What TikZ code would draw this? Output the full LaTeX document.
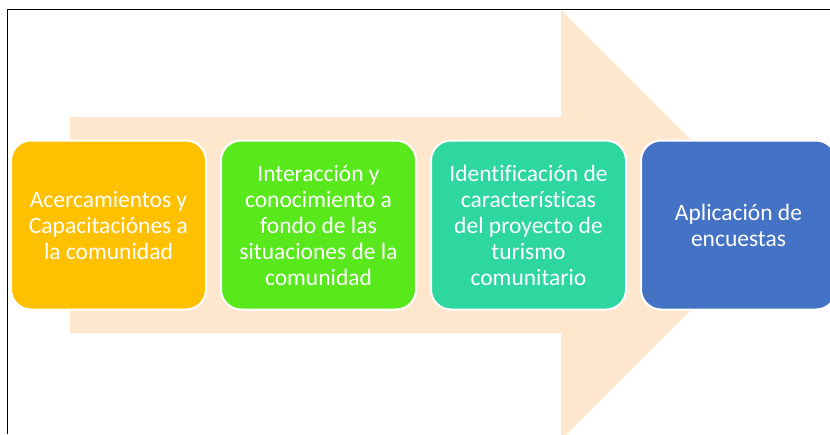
\documentclass[tikz,border=0pt]{standalone}
\usepackage{fontspec}
\setmainfont[Ligatures=CommonOff]{Carlito}

\definecolor{peach}{HTML}{FFE7CE}
\definecolor{gold}{HTML}{FFC000}
\definecolor{lime}{HTML}{58E81C}
\definecolor{mint}{HTML}{2ED6A0}
\definecolor{steel}{HTML}{4472C4}

\tikzset{
	stage/.style={draw=white, line width=2pt, rounded corners=20pt, text=white,
		minimum width=195pt, minimum height=169pt, align=center,
		font=\fontsize{23.5}{26}\selectfont}
}

\begin{document}
\begin{tikzpicture}[x=1pt,y=-1pt]
		\useasboundingbox (0,0) rectangle (830,434);
		\clip (0,0) rectangle (830,434);

		\fill[peach] (70,117) -- (561,117) -- (561,10) -- (776,225) -- (561,440) -- (561,333) -- (70,333) -- cycle;

		\node[stage, fill=gold] (acerca) at (108.5,225) {Acercamientos y\\Capacitaciónes a\\la comunidad};
		\node[stage, fill=lime] (interac) at (318.5,225) {Interacción y\\conocimiento a\\fondo de las\\situaciones de la\\comunidad};
		\node[stage, fill=mint] (ident) at (528.5,225) {Identificación de\\características\\del proyecto de\\turismo\\comunitario};
		\node[stage, fill=steel] (aplic) at (738.5,225) {Aplicación de\\encuestas};

		\draw[black, line width=1.5pt] (7.5,434) -- (7.5,9.5) -- (830,9.5);
	\end{tikzpicture}
\end{document}
